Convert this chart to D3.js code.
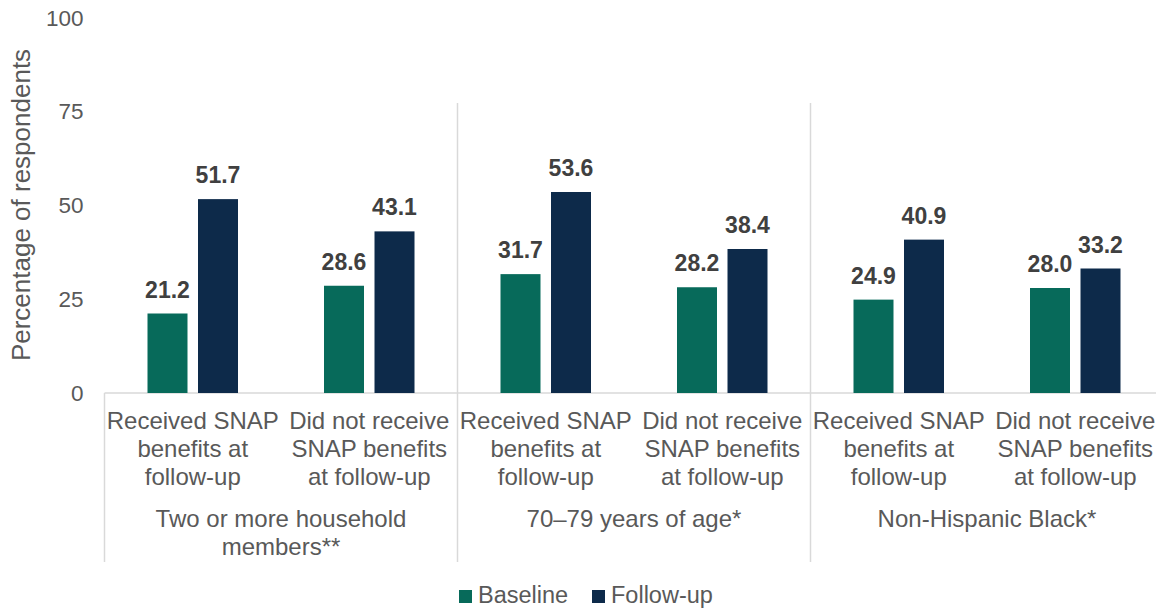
<!DOCTYPE html>
<html>
<head>
<meta charset="utf-8">
<script src="https://cdn.jsdelivr.net/npm/d3@7"></script>
<style>
  html, body { margin: 0; padding: 0; background: #ffffff; }
  svg { display: block; font-family: Arial, "Liberation Sans", sans-serif; }
</style>
</head>
<body>
<svg id="chart" width="1156" height="610"></svg>
<script>
// Groups and the two SNAP categories shown within each group
const groups = ["Two or more household|members**", "70\u201379 years of age*", "Non-Hispanic Black*"];
const categories = [
  ["Received SNAP", "benefits at", "follow-up"],
  ["Did not receive", "SNAP benefits", "at follow-up"]
];
const seriesNames = ["Baseline", "Follow-up"];
// Values in group order, two categories per group
const baselineValues = [21.2, 28.6, 31.7, 28.2, 24.9, 28.0];
const followUpValues = [51.7, 43.1, 53.6, 38.4, 40.9, 33.2];
const yTicks = [0, 25, 50, 75, 100];
const colors = ["#076a5a", "#0d2a4a"];

const svg = d3.select("#chart");
const plotLeft = 104.5, plotRight = 1163.5, plotTop = 18, plotBottom = 393;

const rows = [];
groups.forEach((g, gi) => {
  categories.forEach((c, ci) => {
    const idx = gi * categories.length + ci;
    rows.push({ id: idx, group: gi, lines: c, values: [baselineValues[idx], followUpValues[idx]] });
  });
});

const x = d3.scaleBand().domain(rows.map(r => r.id)).range([plotLeft, plotRight]).padding(0);
const inner = d3.scaleBand().domain(seriesNames)
  .range([x.bandwidth() / 2 - 45.25, x.bandwidth() / 2 + 45.25]).paddingInner(0.208).paddingOuter(0);
const y = d3.scaleLinear().domain([0, 100]).range([plotBottom, plotTop]);

const axisColor = "#d9d9d9";
const textColor = "#595959";

// Y tick labels (no axis line)
const yAxis = svg.append("g").attr("transform", `translate(${plotLeft},0)`)
  .call(d3.axisLeft(y).tickValues(yTicks).tickSize(0).tickPadding(21));
yAxis.select(".domain").remove();
yAxis.selectAll("text").attr("font-size", 22.5).attr("fill", textColor)
  .attr("font-family", "Arial, 'Liberation Sans', sans-serif");

// Y axis title
svg.append("text")
  .attr("transform", `translate(30,205) rotate(-90)`)
  .attr("text-anchor", "middle")
  .attr("font-size", 26).attr("fill", textColor)
  .text("Percentage of respondents");

// Horizontal baseline
svg.append("line")
  .attr("x1", plotLeft).attr("x2", plotRight)
  .attr("y1", y(0)).attr("y2", y(0))
  .attr("stroke", axisColor).attr("stroke-width", 1.5);

// Left frame line below the axis
svg.append("line")
  .attr("x1", plotLeft).attr("x2", plotLeft)
  .attr("y1", y(0)).attr("y2", 562)
  .attr("stroke", axisColor).attr("stroke-width", 1.5);

// Separators between groups
for (let gi = 1; gi < groups.length; gi++) {
  const sx = x(gi * categories.length);
  svg.append("line")
    .attr("x1", sx).attr("x2", sx)
    .attr("y1", 103).attr("y2", 562)
    .attr("stroke", axisColor).attr("stroke-width", 1.5);
}

// Bars
const cat = svg.append("g").selectAll("g").data(rows).join("g")
  .attr("transform", d => `translate(${x(d.id)},0)`);

cat.selectAll("rect").data(d => d.values.map((v, i) => ({ v, s: seriesNames[i], i })))
  .join("rect")
  .attr("x", d => inner(d.s))
  .attr("width", inner.bandwidth())
  .attr("y", d => y(d.v))
  .attr("height", d => y(0) - y(d.v))
  .attr("fill", d => colors[d.i]);

// Value labels
cat.selectAll("text.val").data(d => d.values.map((v, i) => ({ v, s: seriesNames[i] })))
  .join("text").attr("class", "val")
  .attr("x", d => inner(d.s) + inner.bandwidth() / 2)
  .attr("y", d => y(d.v) - 16)
  .attr("text-anchor", "middle")
  .attr("font-size", 23).attr("font-weight", "bold").attr("fill", "#404040")
  .text(d => d.v.toFixed(1));

// Category labels
cat.each(function(d) {
  const t = d3.select(this).append("text")
    .attr("text-anchor", "middle")
    .attr("font-size", 24).attr("fill", textColor);
  d.lines.forEach((ln, li) => {
    t.append("tspan").attr("x", x.bandwidth() / 2).attr("y", 429 + li * 28).text(ln);
  });
});

// Group labels
groups.forEach((g, gi) => {
  const cx = x(gi * categories.length) + x.bandwidth();
  const t = svg.append("text").attr("text-anchor", "middle")
    .attr("font-size", 24).attr("fill", textColor);
  g.split("|").forEach((ln, li) => {
    t.append("tspan").attr("x", cx).attr("y", 527 + li * 28).text(ln);
  });
});

// Legend
const legendItems = [
  { name: seriesNames[0], color: colors[0], x: 459 },
  { name: seriesNames[1], color: colors[1], x: 592 }
];
const lg = svg.append("g").selectAll("g").data(legendItems).join("g")
  .attr("transform", d => `translate(${d.x},590)`);
lg.append("rect").attr("width", 13).attr("height", 13).attr("fill", d => d.color);
lg.append("text").attr("x", 19).attr("y", 13.3)
  .attr("font-size", 23.5).attr("fill", textColor)
  .text(d => d.name);
</script>
</body>
</html>
